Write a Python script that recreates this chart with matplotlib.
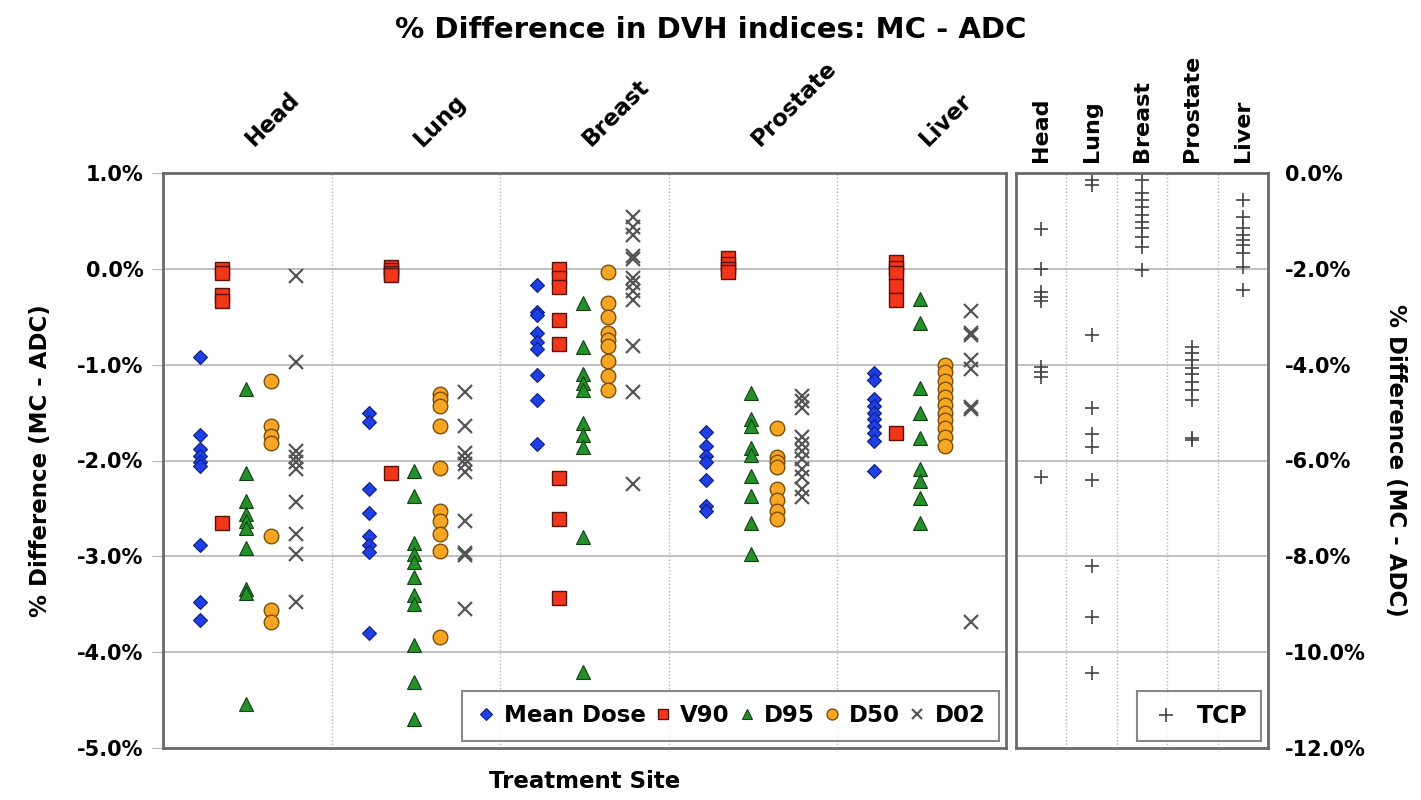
import numpy as np
import matplotlib
matplotlib.use("Agg")
import matplotlib.pyplot as plt
import matplotlib.transforms as mtransforms

plt.rcParams["font.family"] = ["DejaVu Sans"]
plt.rcParams["font.weight"] = "bold"
plt.rcParams["axes.labelweight"] = "bold"

# --- data, % difference MC - ADC ---
sites = ["Head", "Lung", "Breast", "Prostate", "Liver"]

mean_dose = [
    [-0.92, -1.73, -1.88, -1.95, -2.02, -2.06, -2.88, -3.48, -3.66],
    [-1.50, -1.60, -2.30, -2.55, -2.79, -2.88, -2.95, -3.80],
    [-0.17, -0.45, -0.48, -0.67, -0.76, -0.84, -1.11, -1.37, -1.83],
    [-1.70, -1.85, -1.95, -2.02, -2.20, -2.47, -2.53],
    [-1.09, -1.16, -1.36, -1.43, -1.50, -1.57, -1.64, -1.71, -1.80, -2.11],
]
v90 = [
    [0.0, -0.04, -0.27, -0.34, -2.65],
    [0.02, -0.01, -0.04, -0.06, -2.13],
    [0.0, -0.10, -0.19, -0.53, -0.78, -2.18, -2.61, -3.43],
    [0.11, 0.05, 0.0, -0.03],
    [0.07, 0.01, -0.04, -0.18, -0.32, -1.71],
]
d95 = [
    [-1.25, -2.13, -2.42, -2.56, -2.63, -2.70, -2.91, -3.34, -3.38, -4.54],
    [-2.11, -2.37, -2.86, -2.98, -3.06, -3.22, -3.40, -3.50, -3.92, -4.31, -4.70],
    [-0.36, -0.82, -1.10, -1.19, -1.26, -1.61, -1.73, -1.86, -2.80, -4.21],
    [-1.30, -1.57, -1.64, -1.87, -1.94, -2.16, -2.37, -2.65, -2.98],
    [-0.31, -0.57, -1.24, -1.50, -1.76, -2.09, -2.21, -2.39, -2.65],
]
d50 = [
    [-1.17, -1.64, -1.74, -1.82, -2.79, -3.56, -3.68],
    [-1.31, -1.36, -1.43, -1.64, -2.08, -2.53, -2.63, -2.77, -2.94, -3.84],
    [-0.03, -0.36, -0.50, -0.67, -0.74, -0.81, -0.96, -1.12, -1.26],
    [-1.66, -1.96, -2.02, -2.07, -2.30, -2.41, -2.53, -2.61],
    [-1.00, -1.08, -1.17, -1.25, -1.34, -1.42, -1.50, -1.58, -1.66, -1.75, -1.85],
]
d02 = [
    [-0.07, -0.97, -1.90, -1.96, -2.02, -2.09, -2.43, -2.77, -2.98, -3.48],
    [-1.28, -1.64, -1.92, -1.98, -2.04, -2.12, -2.63, -2.96, -2.99, -3.55],
    [0.54, 0.44, 0.35, 0.13, 0.10, -0.10, -0.15, -0.23, -0.32, -0.81, -1.28, -2.25],
    [-1.33, -1.38, -1.45, -1.75, -1.83, -1.90, -1.98, -2.09, -2.17, -2.30, -2.38],
    [-0.44, -0.67, -0.69, -0.95, -1.05, -1.44, -1.46, -3.69],
]
tcp = [
    [-1.17, -2.00, -2.48, -2.58, -2.68, -4.05, -4.15, -4.26, -6.34],
    [-0.15, -0.25, -3.38, -4.90, -5.45, -5.72, -6.40, -8.20, -9.27, -10.44],
    [-0.15, -0.42, -0.56, -0.70, -0.88, -1.02, -1.15, -1.33, -1.54, -2.02],
    [-3.63, -3.76, -3.90, -4.07, -4.20, -4.36, -4.53, -4.74, -5.53, -5.57],
    [-0.56, -0.92, -1.15, -1.29, -1.40, -1.50, -1.67, -1.96, -2.44],
]

series = [
    ("Mean Dose", mean_dose, dict(marker="D", ms=7.5, mfc="#1f3fe6", mec="#10207a", mew=0.8)),
    ("V90", v90, dict(marker="s", ms=10, mfc="#f2361c", mec="#5a1208", mew=1.0)),
    ("D95", d95, dict(marker="^", ms=10, mfc="#23902a", mec="#103f12", mew=0.8)),
    ("D50", d50, dict(marker="o", ms=10.5, mfc="#f7a623", mec="#7a4e08", mew=1.0)),
    ("D02", d02, dict(marker="x", ms=10, mfc="none", mec="#555555", mew=1.6)),
]
offsets = [-0.28, -0.15, -0.01, 0.14, 0.29]

W, H = 1421, 800
fig = plt.figure(figsize=(W / 100, H / 100), dpi=100)
ax = fig.add_axes([163 / W, 1 - 748 / H, (1006 - 163) / W, (748 - 173) / H])
ax2 = fig.add_axes([1016 / W, 1 - 748 / H, (1268 - 1016) / W, (748 - 173) / H])

frame = "#6a6a6a"
grid_c = "#b5b5b5"

# --- left panel ---
for (label, vals, style), off in zip(series, offsets):
    first = True
    for i, v in enumerate(vals):
        ax.plot(np.full(len(v), i + off), v, ls="none",
                label=label if first else None, **style)
        first = False

ax.set_xlim(-0.5, 4.5)
ax.set_ylim(-5, 1)
ax.set_yticks(np.arange(-5, 1.01, 1))
ax.set_yticklabels([f"{t:.1f}%" for t in np.arange(-5, 1.01, 1)])
ax.set_xticks(np.arange(5))
ax.set_xticklabels(sites)
ax.xaxis.tick_top()
ax.tick_params(axis="x", length=0, pad=16, labelsize=16.5)
shift = mtransforms.ScaledTranslation(10 / 100, 0, fig.dpi_scale_trans)
for t in ax.get_xticklabels():
    t.set_rotation(45)
    t.set_ha("left")
    t.set_va("bottom")
    t.set_rotation_mode("anchor")
    t.set_transform(t.get_transform() + shift)
ax.tick_params(axis="y", length=8, color=grid_c, labelsize=15, pad=6)
for y in np.arange(-4, 1, 1):
    ax.axhline(y, color=grid_c, lw=1.2, zorder=0)
for x in np.arange(0.5, 4.5, 1):
    ax.axvline(x, color=grid_c, lw=1, ls=(0, (1, 1.5)), zorder=0)
for s in ax.spines.values():
    s.set_color(frame)
    s.set_linewidth(2)
ax.set_ylabel("% Difference (MC - ADC)", fontsize=16.5, labelpad=18)
ax.set_xlabel("Treatment Site", fontsize=16.5, labelpad=16)
ax.xaxis.set_label_position("bottom")

leg = ax.legend(loc="lower right", ncol=5, fontsize=16.5, frameon=True,
                fancybox=False, handletextpad=0.3, columnspacing=0.3,
                borderpad=0.6, markerscale=0.75, handlelength=0.9,
                borderaxespad=0.3)
leg.get_frame().set_edgecolor(frame)
leg.get_frame().set_linewidth(1.5)

# --- right panel (TCP) ---
for i, v in enumerate(tcp):
    ax2.plot(np.full(len(v), i), v, ls="none", marker="+", ms=10, mew=1.2,
             color="#444444", label="TCP" if i == 0 else None)
ax2.set_xlim(-0.5, 4.5)
ax2.set_ylim(-12, 0)
ax2.set_yticks(np.arange(-12, 0.01, 2))
ax2.set_yticklabels([f"{t:.1f}%" for t in np.arange(-12, 0.01, 2)])
ax2.yaxis.tick_right()
ax2.yaxis.set_label_position("right")
ax2.tick_params(axis="y", length=0, labelsize=15, pad=12)
ax2.set_xticks(np.arange(5))
ax2.set_xticklabels(sites)
ax2.xaxis.tick_top()
ax2.tick_params(axis="x", length=0, pad=8, labelsize=16)
for t in ax2.get_xticklabels():
    t.set_rotation(90)
    t.set_ha("center")
    t.set_va("bottom")
for y in np.arange(-10, 0, 2):
    ax2.axhline(y, color=grid_c, lw=1.2, zorder=0)
for x in np.arange(0.5, 4.5, 1):
    ax2.axvline(x, color=grid_c, lw=1, ls=(0, (1, 1.5)), zorder=0)
for s in ax2.spines.values():
    s.set_color(frame)
    s.set_linewidth(2)
ax2.set_ylabel("% Difference (MC - ADC)", fontsize=16.5, rotation=-90,
               labelpad=30)
leg2 = ax2.legend(loc="lower right", fontsize=17, frameon=True, fancybox=False,
                  handletextpad=0.6, borderpad=0.55, handlelength=1.4,
                  borderaxespad=0.3)
leg2.get_frame().set_edgecolor(frame)
leg2.get_frame().set_linewidth(1.5)

fig.text(0.5, 1 - 30 / H, "% Difference in DVH indices: MC - ADC",
         ha="center", va="center", fontsize=21)

fig.savefig("out.png", dpi=100, facecolor="white")
